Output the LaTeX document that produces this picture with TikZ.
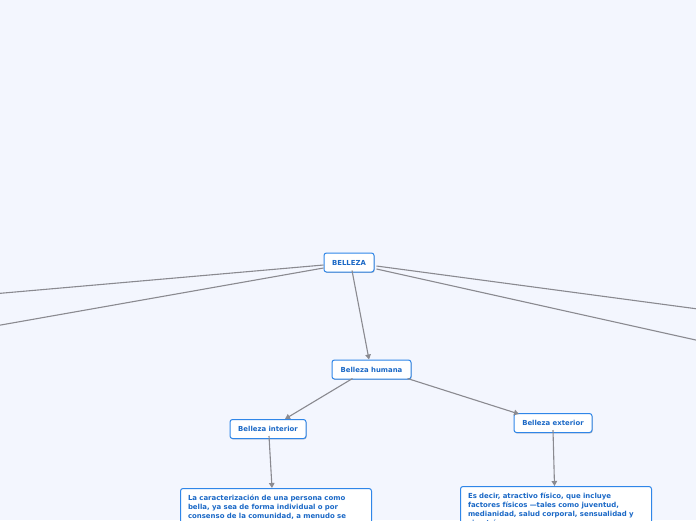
\documentclass[tikz,border=0pt]{standalone}
\usepackage{fontspec}
\setmainfont{DejaVu Sans}
\usetikzlibrary{arrows.meta,shadows}
\definecolor{bg}{HTML}{F3F6FE}
\definecolor{bordc}{HTML}{2F86E8}
\definecolor{txtc}{HTML}{1A68C6}
\definecolor{linec}{HTML}{8A8A90}
\tikzset{
  topic/.style={draw=bordc, line width=1pt, fill=white, rounded corners=2.5pt,
    font=\bfseries\fontsize{6.9}{8}\selectfont, text=txtc, inner sep=0pt,
    minimum height=19pt, align=center,
    drop shadow={shadow xshift=0.6pt, shadow yshift=-0.9pt, opacity=0.25, fill=black}},
  textbox/.style={draw=bordc, line width=1pt, fill=white, rounded corners=2.5pt,
    font=\bfseries\fontsize{6.95}{9}\selectfont, text=txtc, inner xsep=7.5pt, inner ysep=6pt,
    text width=176pt, align=left, anchor=north west},
  conn/.style={draw=linec, line width=1.1pt},
  arr/.style={conn, -{Triangle[length=5pt, width=5.5pt]}},
}
\begin{document}
\begin{tikzpicture}[x=1pt, y=-1pt]
\useasboundingbox (0,0) rectangle (696,520);
\clip (0,0) rectangle (696,520);
\fill[bg] (0,0) rectangle (696,520);

\coordinate (L1) at (-2,293.5);
\coordinate (L2) at (-2,325.5);
\coordinate (R1) at (698,309);
\coordinate (R2) at (698,340.5);

\node[topic, minimum width=50pt] (bel) at (349,262.5) {BELLEZA};
\node[topic, minimum width=79pt] (hum) at (371.5,369.5) {Belleza humana};
\node[topic, minimum width=76pt] (int) at (268,429) {Belleza interior};
\node[topic, minimum width=78pt] (ext) at (553,423) {Belleza exterior};

\node[textbox, minimum width=191pt] (t1) at (180,488)
 {La caracterización de una persona como\\ bella, ya sea de forma individual o por\\ consenso de la comunidad, a menudo se\\[12pt]\mbox{}};
\node[textbox, minimum width=191pt] (t2) at (460,486)
 {Es decir, atractivo físico, que incluye\\ factores físicos —tales como juventud,\\ medianidad, salud corporal, sensualidad y\\ simetría\\[10pt]\mbox{}};

\draw[conn] ([yshift=-2.5pt]bel.west) -- (L1);
\draw[conn] ([yshift=-5.5pt]bel.west) -- (L2);
\draw[conn] ([xshift=2pt,yshift=-3.5pt]bel.east) -- (R1);
\draw[conn] ([xshift=2pt,yshift=-6.5pt]bel.east) -- (R2);

\draw[arr] ([xshift=3pt,yshift=2pt]bel.south) -- ([xshift=-2.5pt]hum.north);
\draw[arr] ([xshift=-19pt,yshift=1pt]hum.south) -- ([xshift=17pt]int.north);
\draw[arr] ([xshift=36pt,yshift=1pt]hum.south) -- ([xshift=-34pt,yshift=-1pt]ext.north);
\draw[arr] ([xshift=1pt,yshift=3pt]int.south) -- ([xshift=92pt]t1.north west);
\draw[arr] ([yshift=3pt]ext.south) -- ([xshift=94.5pt]t2.north west);
\end{tikzpicture}
\end{document}
